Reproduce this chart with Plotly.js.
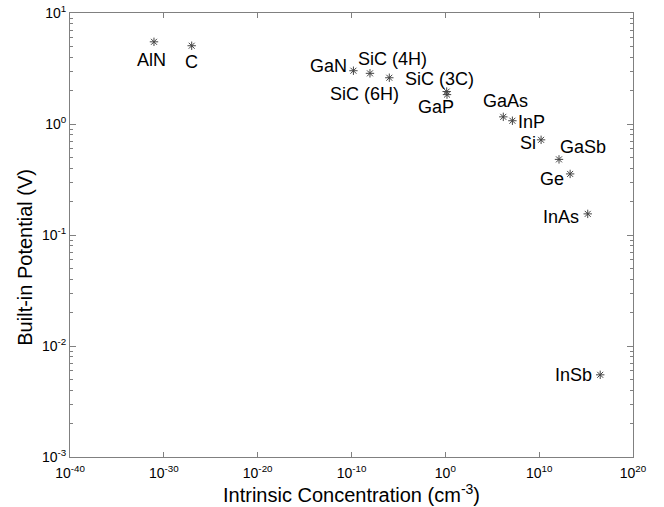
<!DOCTYPE html>
<html>
<head>
<meta charset="utf-8">
<script src="https://cdn.plot.ly/plotly-3.0.1.min.js"></script>
<style>html,body{margin:0;padding:0;background:#fff;}#chart{width:664px;height:507px;}</style>
</head>
<body>
<div id="chart"></div>
<script>
// Data
const materials = ['AlN', 'C', 'GaN', 'SiC (4H)', 'SiC (6H)', 'SiC (3C)', 'GaP', 'GaAs', 'InP', 'Si', 'GaSb', 'Ge', 'InAs', 'InSb'];
const intrinsicConc = [8.9e-32, 9.3e-28, 1.6e-10, 9.3e-9, 1.07e-6, 1.4, 1.5, 1.5e6, 1.4e7, 1.6e10, 1.3e12, 2.0e13, 1.5e15, 3.2e16];
const builtInPotential = [5.5, 5.07, 3.02, 2.86, 2.61, 1.96, 1.84, 1.16, 1.07, 0.72, 0.48, 0.355, 0.155, 0.0055];

const xTickVals = [1e-40, 1e-30, 1e-20, 1e-10, 1e0, 1e10, 1e20];
const xTickText = ['10<sup>-40</sup>', '10<sup>-30</sup>', '10<sup>-20</sup>', '10<sup>-10</sup>', '10<sup>0</sup>', '10<sup>10</sup>', '10<sup>20</sup>'];
const yTickVals = [1e-3, 1e-2, 1e-1, 1e0, 1e1];
const yTickText = ['10<sup>-3</sup>', '10<sup>-2</sup>', '10<sup>-1</sup>', '10<sup>0</sup>', '10<sup>1</sup>'];

// label placement offsets (pixels) relative to each marker — styling only
const labelShift = [[-2, -18], [0, -16], [-25, 5], [23, 14], [-25, -16], [-7, 13], [-11, -12], [2, 16], [19, -1], [-13, -3], [24, 12], [-18, -5], [-27, -3], [-27, 0]];

const FONT = 'Arial, "Liberation Sans", sans-serif';
const axisColor = '#808080';

const trace = {
  x: intrinsicConc,
  y: builtInPotential,
  mode: 'markers',
  type: 'scatter',
  marker: {symbol: 'asterisk-open', size: 7, color: '#444', line: {color: '#444', width: 1}},
  hoverinfo: 'x+y+text',
  text: materials,
  showlegend: false
};

const annotations = materials.map((m, i) => ({
  x: Math.log10(intrinsicConc[i]),
  y: Math.log10(builtInPotential[i]),
  xref: 'x', yref: 'y',
  text: m,
  showarrow: false,
  xshift: labelShift[i][0],
  yshift: labelShift[i][1],
  xanchor: 'center', yanchor: 'middle',
  font: {family: FONT, size: 18, color: '#000'}
}));

annotations.push({
  xref: 'paper', yref: 'paper',
  x: -0.079, y: 0.45,
  text: 'Built-in Potential (V)',
  textangle: -90,
  showarrow: false,
  xanchor: 'center', yanchor: 'middle',
  font: {family: FONT, size: 20, color: '#000'}
});

const layout = {
  width: 664, height: 507,
  margin: {l: 70, r: 31, t: 13, b: 50},
  paper_bgcolor: '#fff', plot_bgcolor: '#fff',
  font: {family: FONT, color: '#000'},
  xaxis: {
    type: 'log', range: [-40, 20],
    tickvals: xTickVals, ticktext: xTickText,
    ticks: 'inside', ticklen: 5, tickcolor: axisColor, tickwidth: 1,
    showline: true, linecolor: axisColor, linewidth: 1, mirror: 'ticks',
    showgrid: false, zeroline: false,
    ticklabelstandoff: 3,
    tickfont: {family: FONT, size: 14, color: '#000'},
    title: {text: 'Intrinsic Concentration (cm<sup>-3</sup>)', font: {family: FONT, size: 20, color: '#000'}, standoff: 3},
    automargin: false
  },
  yaxis: {
    type: 'log', range: [-3, 1],
    tickvals: yTickVals, ticktext: yTickText,
    ticks: 'inside', ticklen: 6, tickcolor: axisColor, tickwidth: 1,
    minor: {ticks: 'inside', ticklen: 3, tickcolor: axisColor, dtick: 'D1', showgrid: false},
    showline: true, linecolor: axisColor, linewidth: 1, mirror: 'ticks',
    showgrid: false, zeroline: false,
    tickfont: {family: FONT, size: 14, color: '#000'},
    automargin: false
  },
  annotations: annotations
};

Plotly.newPlot('chart', [trace], layout, {displayModeBar: false, staticPlot: true});
</script>
</body>
</html>
